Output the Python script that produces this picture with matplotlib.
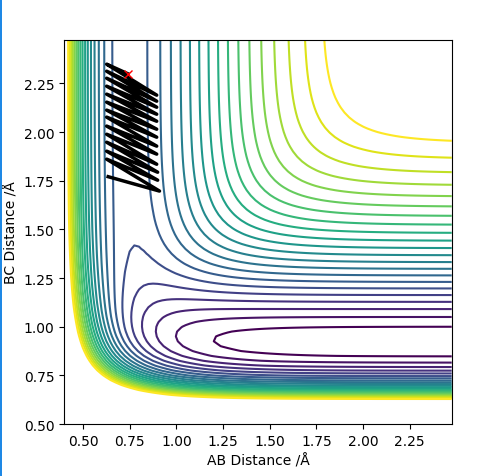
import numpy as np
import matplotlib
matplotlib.use("Agg")
import matplotlib.pyplot as plt
from matplotlib.patches import Rectangle

# LEPS parameters (De / eV, beta / 1/A, re / A, Sato k)
HH = dict(De=4.746, beta=1.942, re=0.7417, k=0.2)
HF = dict(De=6.123, beta=2.219, re=0.917, k=0.19)

# grid
ab = np.arange(0.4, 2.5, 0.025)
bc = np.arange(0.5, 2.5, 0.025)

# contour levels (eV)
level_lo = -5.95
level_step = 0.227
n_levels = 22

# trajectory (AB, BC)
traj_ab = [0.74, 0.627, 0.895, 0.627, 0.895, 0.627, 0.895, 0.627, 0.895,
           0.627, 0.895, 0.627, 0.895, 0.627, 0.895, 0.627, 0.895, 0.627,
           0.895, 0.627, 0.895, 0.627, 0.9, 0.627, 0.9, 0.627, 0.91, 0.635]
traj_bc = [2.30, 2.349, 2.190, 2.313, 2.159, 2.277, 2.128, 2.236, 2.092,
           2.195, 2.056, 2.154, 2.015, 2.113, 1.974, 2.077, 1.928, 2.031,
           1.887, 1.989, 1.835, 1.948, 1.794, 1.902, 1.753, 1.861, 1.697, 1.771]


def q_j(r, p):
    e = np.exp(-p['beta'] * (r - p['re']))
    k = p['k']
    q = p['De'] / 4 * ((3 + k) * e**2 - (2 + 6 * k) * e) / (1 + k)
    j = p['De'] / 4 * ((1 + 3 * k) * e**2 - (6 + 2 * k) * e) / (1 + k)
    return q, j


X, Y = np.meshgrid(ab, bc)
q_ab, j_ab = q_j(X, HH)
q_bc, j_bc = q_j(Y, HF)
q_ac, j_ac = q_j(X + Y, HF)
V = q_ab + q_bc + q_ac - np.sqrt(0.5 * ((j_ab - j_bc)**2 + (j_bc - j_ac)**2
                                        + (j_ac - j_ab)**2))

levels = level_lo + level_step * np.arange(n_levels)

fig = plt.figure(figsize=(4.78, 4.77), dpi=100)
ax = fig.add_axes([0.1345, 0.109, 0.8105, 0.8057])
ax.contour(X, Y, V, levels=levels, cmap='viridis')
ax.plot(traj_ab, traj_bc, color='k', lw=2.5)
ax.plot(traj_ab[0], traj_bc[0], 'rx', ms=6)
ax.set_xlabel('AB Distance /Å')
ax.set_ylabel('BC Distance /Å')

# blue strip at the left edge of the original screenshot
fig.add_artist(Rectangle((0, 0), 2 / 478, 1, transform=fig.transFigure,
                         color='#1e88e5', lw=0))

fig.savefig('out.png', dpi=100)
